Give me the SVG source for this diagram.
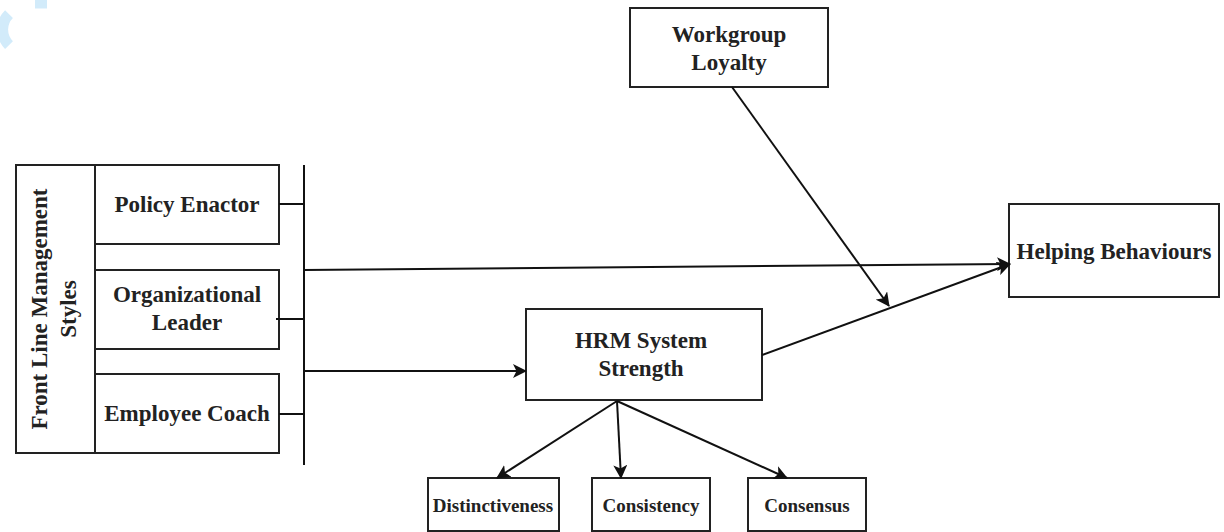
<svg xmlns="http://www.w3.org/2000/svg" width="1224" height="532" viewBox="0 0 1224 532">
<style>
.box{fill:#fff;stroke:#222;stroke-width:2}
.t{font-family:"Liberation Serif","Times New Roman",serif;font-weight:bold;font-size:23px;fill:#222;text-anchor:middle}
.s{font-size:19px}
.c{fill:none;stroke:#111;stroke-width:2}
</style>
<defs>
<marker id="ah" viewBox="0 0 14 14" refX="13" refY="7" markerWidth="14" markerHeight="14" markerUnits="userSpaceOnUse" orient="auto">
<path d="M0,0 L14,7 L0,14 L3.5,7 Z" fill="#111"/>
</marker>
</defs>
<rect width="1224" height="532" fill="#fff"/>
<g id="watermark" fill="none" stroke="#d2ebfa" stroke-width="11">
<path d="M9,45 A22,22 0 0 1 9,14"/>
<path d="M35,3 L47,3"/>
</g>
<g id="flm">
<rect class="box" x="16" y="165" width="79" height="288"/>
<text class="t" transform="rotate(-90)"><tspan x="-309" y="47">Front Line Management</tspan><tspan x="-309" y="76">Styles</tspan></text>
</g>
<g id="policy">
<rect class="box" x="95" y="165" width="184" height="79"/>
<text class="t" x="187" y="212">Policy Enactor</text>
</g>
<g id="orgleader">
<rect class="box" x="95" y="270" width="184" height="79"/>
<text class="t" x="187" y="302">Organizational</text>
<text class="t" x="187" y="330">Leader</text>
</g>
<g id="coach">
<rect class="box" x="95" y="374" width="184" height="79"/>
<text class="t" x="187" y="421">Employee Coach</text>
</g>
<g id="workgroup">
<rect class="box" x="630" y="8" width="198" height="79"/>
<text class="t" x="729" y="42">Workgroup</text>
<text class="t" x="729" y="70">Loyalty</text>
</g>
<g id="hrm">
<rect class="box" x="526" y="309" width="236" height="91"/>
<text class="t" x="641" y="348">HRM System</text>
<text class="t" x="641" y="376">Strength</text>
</g>
<g id="helping">
<rect class="box" x="1009" y="204" width="210" height="93"/>
<text class="t" x="1114" y="259">Helping Behaviours</text>
</g>
<g id="distinctiveness">
<rect class="box" x="428" y="478" width="131" height="53"/>
<text class="t s" x="493" y="512">Distinctiveness</text>
</g>
<g id="consistency">
<rect class="box" x="592" y="478" width="118" height="53"/>
<text class="t s" x="651" y="512">Consistency</text>
</g>
<g id="consensus">
<rect class="box" x="748" y="478" width="118" height="53"/>
<text class="t s" x="807" y="512">Consensus</text>
</g>
<g id="connectors">
<line class="c" x1="304" y1="165" x2="304" y2="465"/>
<line class="c" x1="279" y1="204" x2="304" y2="204"/>
<line class="c" x1="276" y1="319" x2="304" y2="319"/>
<line class="c" x1="279" y1="414" x2="304" y2="414"/>
<line class="c" x1="304" y1="270" x2="1010" y2="264" marker-end="url(#ah)"/>
<line class="c" x1="304" y1="371" x2="526" y2="371" marker-end="url(#ah)"/>
<line class="c" x1="732" y1="87" x2="889" y2="306" marker-end="url(#ah)"/>
<line class="c" x1="762" y1="355" x2="1010" y2="264" marker-end="url(#ah)"/>
<line class="c" x1="617" y1="401" x2="497" y2="478" marker-end="url(#ah)"/>
<line class="c" x1="617" y1="401" x2="621" y2="478" marker-end="url(#ah)"/>
<line class="c" x1="617" y1="401" x2="787" y2="478" marker-end="url(#ah)"/>
</g>
</svg>
